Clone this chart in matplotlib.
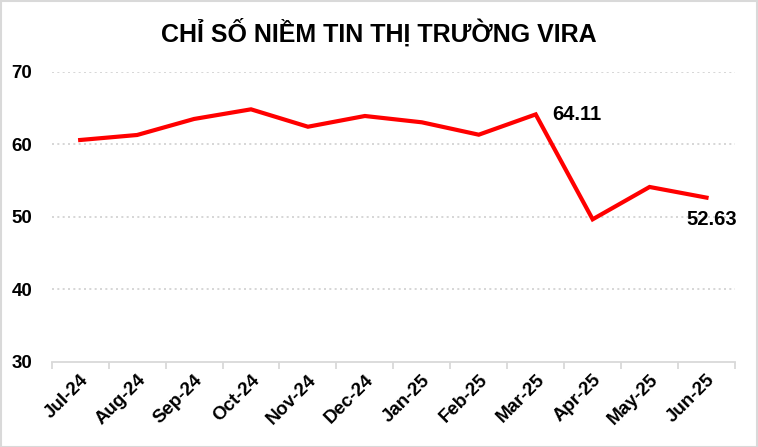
import matplotlib
matplotlib.use("Agg")
import matplotlib.pyplot as plt
from matplotlib.patches import Rectangle

plt.rcParams['font.family'] = ['Liberation Sans', 'DejaVu Sans']

months = ["Jul-24", "Aug-24", "Sep-24", "Oct-24", "Nov-24", "Dec-24",
          "Jan-25", "Feb-25", "Mar-25", "Apr-25", "May-25", "Jun-25"]
values = [60.58, 61.27, 63.48, 64.81, 62.41, 63.89,
          63.02, 61.31, 64.11, 49.64, 54.10, 52.63]
yticks = [30, 40, 50, 60, 70]
title = "CHỈ SỐ NIỀM TIN THỊ TRƯỜNG VIRA"

fig = plt.figure(figsize=(7.58, 4.47), dpi=100)
W, H = 758, 447
left, right = 51.7 / W, 735 / W
bottom, top = 1 - 361.7 / H, 1 - 71.7 / H
ax = fig.add_axes([left, bottom, right - left, top - bottom])

x = list(range(len(months)))
ax.plot(x, values, color='#FF0000', lw=3.0, solid_joinstyle='miter', clip_on=False)

ax.set_xlim(-0.5, len(months) - 0.5)
ax.set_ylim(30, 70)
ax.set_yticks(yticks)
ax.set_yticklabels([str(t) for t in yticks], fontsize=13.5, fontweight='bold')
ax.tick_params(axis='y', length=0, pad=14)
for t in yticks[1:]:
    ax.axhline(t, color='#D0D0D0', lw=1.2, ls=(0, (1.2, 2)), zorder=0)

ax.set_xticks(x)
ax.set_xticklabels(months, rotation=45, ha='right', rotation_mode='anchor',
                   fontsize=13.5, fontweight='bold')
ax.set_xticks([i - 0.5 for i in range(len(months) + 1)], minor=True)
ax.tick_params(axis='x', which='major', length=0, pad=7)
ax.tick_params(axis='x', which='minor', length=5, color='#D9D9D9', width=1.3)

for s in ['top', 'right', 'left']:
    ax.spines[s].set_visible(False)
ax.spines['bottom'].set_color('#D9D9D9')
ax.spines['bottom'].set_linewidth(1.3)

ax.annotate(f"{values[8]:.2f}", (8, values[8]), xytext=(12, 0), textcoords='offset points',
            fontsize=14.5, fontweight='bold', va='center', ha='left')
ax.annotate(f"{values[11]:.2f}", (11, values[11]), xytext=(-14.8, -15.4), textcoords='offset points',
            fontsize=14.5, fontweight='bold', va='center', ha='left')

fig.text(0.5, 1 - 32 / H, title, ha='center', va='center', fontsize=18, fontweight='bold')

fig.patches.append(Rectangle((0.5 / W, 0.5 / H), 1 - 1.5 / W, 1 - 1.5 / H,
                             transform=fig.transFigure, fill=False,
                             edgecolor='#D9D9D9', lw=1.5))

fig.savefig("out.png", dpi=100)
